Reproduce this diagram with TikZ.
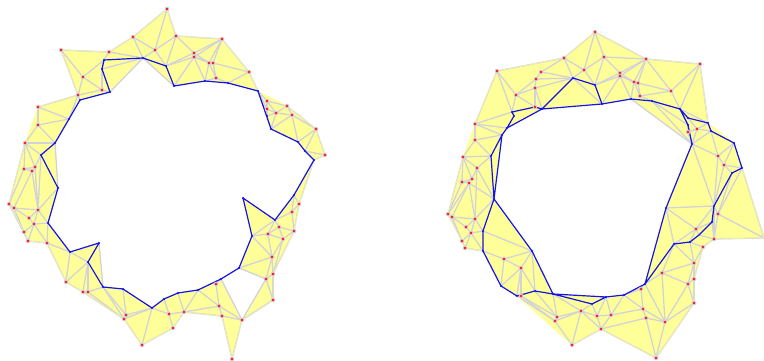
\documentclass[tikz,border=0pt]{standalone}
\definecolor{meshy}{HTML}{FFFF99}
\definecolor{meshe}{HTML}{D2D2D8}
\definecolor{pathb}{HTML}{1414E6}
\definecolor{dotr}{HTML}{FF1020}
\definecolor{halo}{HTML}{D8D0D0}
\tikzset{
  edgeline/.style={draw=meshe,line width=1.3pt},
  pathline/.style={draw=pathb,line width=1.2pt,line cap=round,line join=round},
  region/.style={fill=meshy,even odd rule},
  rim/.style={draw=meshy,line width=0.8pt,opacity=0.6},
}
\begin{document}
\begin{tikzpicture}[x=1pt,y=-1pt]
\useasboundingbox (0,0) rectangle (764,361);
% vertices: left ring
\foreach \n/\x/\y in {
a1/167/9,a2/133/37,a3/176/36,a4/155/50,a5/109/52,a6/61/50,a7/143/58,a8/104/60,a9/102/69,a10/83/77,
a11/166/66,a12/174/86,a13/78/95,a14/102/90,a15/110/92,a16/80/100,a17/38/107,a18/38/125,a19/69/119,
a20/25/143,a21/55/143,a22/41/155,a23/35/167,a24/24/169,a25/32/171,
b1/58/188,b2/9/204,b3/14/208,b4/38/210,b5/29/218,b6/34/224,b7/48/223,b8/24/232,b9/28/241,b10/47/243,
b11/70/252,b12/99/243,b13/88/262,b14/66/282,b15/83/292,b16/88/292,b17/103/287,b18/123/289,b19/126/315,
b20/124/319,b21/142/345,b22/152/308,b23/164/299,b24/169/314,
c1/178/293,c2/198/290,c3/173/328,c4/184/312,c5/216/284,c6/221/279,c7/239/268,c8/219/306,c9/222/316,
c10/242/320,c11/232/359,c12/273/300,c13/266/279,c14/273/274,c15/272/257,c16/252/236,c17/243/198,
c18/275/220,c19/268/234,c20/283/239,c21/279/227,c22/294/231,c23/292/212,c24/299/204,c25/294/195,
d2/222/39,d3/194/53,d4/194/57,d5/209/63,d6/213/63,d7/216/78,d8/249/72,d10/205/81,d11/228/83,d12/258/91,
d13/267/101,d14/267/109,d15/267/116,d16/287/106,d17/276/113,d18/292/115,d19/271/129,d20/298/142,
d21/316/129,d22/305/151,d23/325/155,d24/314/160}
  \coordinate (\n) at (\x,\y);
% vertices: right ring
\foreach \n/\x/\y in {
e1/595/32,e2/564/58,e3/604/57,e4/584/70,e5/541/72,e6/497/71,e7/536/79,e8/535/88,e9/573/78,e10/595/85,
e11/516/95,e12/602/104,e13/535/107,e14/542/109,e15/512/112,e16/514/116,e17/507/128,e18/475/124,
e19/475/140,e20/502/135,e21/491/156,e22/463/157,e23/477/168,e24/472/179,e25/462/182,e26/469/183,
f1/494/199,f2/448/214,f3/452/217,f4/475/219,f5/466/227,f6/471/233,f7/483/231,f8/462/241,f9/465/248,
f10/483/251,f11/504/259,f12/532/251,f13/521/268,f14/501/286,f15/517/296,f16/521/296,f17/535/291,
f18/553/294,f19/557/317,f20/555/321,f21/572/345,f22/581/311,f23/592/304,f24/597/316,f25/601/329,f26/606/297,
g2/624/295,g3/611/315,g5/641/289,g6/645/284,g7/643/309,g8/646/318,g9/665/322,g10/656/358,g11/694/303,
g12/688/284,g13/694/279,g14/662/273,g15/694/263,g16/674/244,g17/666/208,g18/690/242,g19/703/247,
g20/714/239,g21/696/229,g22/712/222,g23/718/214,g24/714/206,g25/699/235,g26/764/238,
h2/646/59,h3/700/64,h4/620/73,h5/620/76,h6/634/82,h7/638/83,h8/640/96,h9/671/91,h11/631/99,h12/652/101,
h13/680/109,h14/688/118,h15/708/123,h16/688/125,h17/688/132,h18/697/129,h19/711/131,h20/692/144,
h21/734/143,h22/718/156,h23/724/165,h24/742/168,h25/732/173}
  \coordinate (\n) at (\x,\y);
% yellow regions
\path[region]
  (a1)--(a3)--(d2)--(d8)--(d12)--(d16)--(d21)--(d23)--(d24)--(c24)--(c22)--(c14)--(c12)--(c10)--(c11)--(c9)--(c4)--(c3)--(b21)--(b20)--(b15)--(b14)--(b10)--(b9)--(b8)--(b2)--(a20)--(a17)--(a13)--(a6)--(a5)--(a2)--cycle
  (a7)--(a12)--(d10)--(d11)--(d12)--(d19)--(d20)--(d22)--(d24)--(c25)--(c18)--(c17)--(c16)--(c7)--(c6)--(c2)--(c1)--(b23)--(b22)--(b18)--(b17)--(b12)--(b11)--(b7)--(b1)--(a21)--(a19)--(a16)--(a15)--cycle
  (c6)--(c7)--(c13)--(c10)--cycle;
\path[region]
  (e1)--(h2)--(h3)--(h15)--(h21)--(h24)--(g26)--(g20)--(g19)--(g13)--(g11)--(g10)--(f25)--(f21)--(f15)--(f14)--(f10)--(f9)--(f2)--(e22)--(e18)--(e6)--(e2)--cycle
  (e14)--(e12)--(h11)--(h20)--(g17)--(g6)--(g2)--(f26)--(f18)--(f12)--(f1)--(e20)--(e17)--cycle;
% mesh edges, left ring
\foreach \p/\q in {
a6/a5,a6/a10,a6/a13,a10/a8,a10/a13,a10/a14,a5/a8,a5/a2,a5/a7,a8/a9,a9/a14,a9/a7,a15/a7,a2/a1,a2/a7,a2/a4,a1/a4,a1/a3,a4/a3,a4/a7,a4/a11,a3/a11,a7/a12,
a3/d3,a3/d2,a13/a14,a14/a15,a13/a16,a17/a13,a17/a19,a17/a18,a18/a19,a18/a20,a18/a21,a19/a13,a20/a21,a20/a22,a20/a23,a20/a24,a20/b2,a21/b1,a22/a23,a23/a24,a23/a25,a24/a25,
a24/b2,a25/b3,a25/b4,a23/b4,a22/b4,b1/b4,b4/b7,b4/b6,b4/b5,b4/b3,b3/b5,b3/b2,b2/b8,b3/b8,b5/b6,b6/b8,b8/b9,b6/b9,b6/b7,b9/b10,b6/b10,b7/b10,b10/b11,b10/b14,b11/b14,b11/b13,b12/b17,b13/b14,b13/b15,b13/b16,b14/b15,b15/b16,b16/b17,b16/b20,b15/b20,b17/b19,b17/b20,b18/b19,b19/b20,b19/b22,b20/b22,b20/b21,b21/b22,b21/c3,b22/b24,b23/b24,b24/c3,c3/c4,b24/c4,c1/c4,c2/c4,c2/c8,c4/c8,c4/c9,c5/c8,c5/c6,c6/c10,c8/c9,c8/c10,c9/c10,c9/c11,c10/c11,c10/c13,c10/c12,c12/c13,c7/c13,c7/c15,c13/c15,c13/c14,c14/c12,c14/c15,c15/c16,c15/c19,c15/c20,c14/c20,c16/c19,c16/c18,c18/c19,c18/c21,c18/c23,c19/c20,c19/c21,c20/c21,c21/c22,c20/c22,c22/c23,c23/c24,c22/c24,c23/c25,c24/c25,c24/d24,
d3/d2,d4/d2,d2/d5,d2/d6,d2/d8,d3/d4,d3/d5,d4/d5,d4/d6,d4/a11,d3/a11,d4/a12,d4/d10,d5/d10,d5/d6,d5/d7,d6/d7,d6/d8,d7/d10,d7/d11,d8/d11,d8/d12,d12/d13,d12/d14,d12/d15,d13/d16,d13/d14,d13/d17,d14/d17,d14/d15,d15/d17,d15/d19,d16/d17,d16/d18,d16/d21,d17/d18,d17/d19,d18/d19,d18/d20,d18/d21,d20/d21,d21/d22,d21/d23,d22/d23,d23/d24,
c22/c14,c12/c10,b9/b2}
  \draw[edgeline] (\p)--(\q);
% mesh edges, right ring
\foreach \p/\q in {
e6/e2,e6/e11,e6/e15,e6/e18,e2/e1,e2/e5,e2/e9,e2/e4,e1/e4,e1/e3,e1/h2,e4/e3,e4/e9,e4/e10,e3/e10,e3/h2,e3/h4,e5/e7,e5/e9,e7/e11,e7/e9,e7/e8,e8/e9,e8/e11,e8/e13,e8/e14,e11/e13,e11/e15,e9/e12,e15/e18,e18/e17,e18/e19,e18/e20,e19/e20,e19/e21,e19/e22,e22/e21,e22/e23,e22/e24,e22/e25,e22/f2,e21/e23,e23/f1,e26/f1,e23/f4,e24/e26,e25/e26,e24/e23,e25/e24,e25/f2,e26/f2,e26/f3,e26/f4,
f1/f4,f4/f7,f4/f6,f4/f5,f3/f4,f2/f3,f3/f5,f2/f8,f3/f8,f5/f6,f6/f8,f6/f9,f8/f9,f6/f10,f6/f7,f7/f12,f10/f11,f9/f10,f11/f12,f11/f13,f11/f14,f12/f13,f12/f17,f13/f14,f13/f15,f13/f16,f13/f17,f15/f16,f15/f20,f16/f20,f16/f19,f17/f19,f18/f19,f18/f22,f19/f20,f19/f22,f20/f22,f20/f21,f21/f22,f21/f25,f22/f23,f22/f24,f22/f25,f23/f24,f24/f25,f24/f26,f25/g3,g3/f24,g3/f26,g3/g2,g3/g7,f25/g8,g2/g7,g2/g5,g5/g6,g5/g7,g6/g9,g7/g8,g7/g9,g8/g9,g8/g10,f25/g10,g9/g10,g6/g14,g14/g9,g14/g12,g14/g15,g14/g16,g16/g17,g16/g15,g16/g21,g17/g21,g17/g24,g18/g15,g18/g19,g18/g21,g19/g15,g19/g20,g19/g13,g15/g12,g15/g13,g12/g13,g12/g11,g12/g9,g13/g11,g9/g11,g10/g11,g21/g22,g21/g24,g21/g25,g25/g20,g22/g20,g24/g20,g23/g24,g23/g20,g23/g26,g20/g26,h24/g26,
h20/g24,h22/g24,h23/g24,h25/g23,h24/g23,h23/h24,h23/h25,h23/h21,h22/h23,h22/h21,h22/h19,h22/h20,h20/h19,h18/h19,h18/h17,h18/h14,h18/h15,h18/h20,h17/h20,h16/h17,h2/h3,h2/h9,h2/h4,h2/h5,h2/h6,h2/h7,h3/h9,h3/h13,h3/h15,h9/h7,h9/h8,h9/h13,h4/h5,h4/h6,h5/e10,h5/h11,h5/h6,h5/h7,h4/e10,h6/h7,h6/h11,h6/h8,h7/h8,h8/h12,e12/h5,h11/h20,h12/h20,h12/h16,h13/h15,h13/h16}
  \draw[edgeline] (\p)--(\q);
% outer rim
\draw[rim] (a1)--(a3)--(d2)--(d8)--(d12)--(d16)--(d21)--(d23)--(d24)--(c24)--(c22)--(c14)--(c12)--(c10)--(c11)--(c9)--(c4)--(c3)--(b21)--(b20)--(b15)--(b14)--(b10)--(b9)--(b8)--(b2)--(a20)--(a17)--(a13)--(a6)--(a5)--(a2)--cycle;
\draw[rim] (e1)--(h2)--(h3)--(h15)--(h21)--(h24)--(g26)--(g20)--(g19)--(g13)--(g11)--(g10)--(f25)--(f21)--(f15)--(f14)--(f10)--(f9)--(f2)--(e22)--(e18)--(e6)--(e2)--cycle;
% blue paths
\draw[pathline] (a7)--(a8)--(a9)--(a15)--(a16)--(a19)--(a21)--(a22)--(b1)--(b7)--(b11)--(b12)--(b13)--(b17)--(b18)--(b22)--(b23)--(c1)--(c2)--(c6)--(c7)--(c16)--(c17)--(c18)--(c25)--(d24)--(d22)--(d20)--(d19)--(d12)--(d11)--(d10)--(a12)--(a11)--(a7);
\draw[pathline] (e14)--(e9)--(e10)--(e12)--(e14)--(e13)--(e15)--(e16)--(e17)--(e14);
\draw[pathline] (e17)--(e20)--(e21)--(f1)--(e20);
\draw[pathline] (f1)--(f7)--(f10)--(f14)--(f15)--(f17)--(f18)--(f12)--(f1);
\draw[pathline] (f18)--(f26)--(f23)--(f18);
\draw[pathline] (f26)--(g2)--(g6)--(g16)--(g18)--(g25)--(g22)--(g24)--(h25)--(h24)--(h21)--(h19)--(h15)--(h14)--(h13)--(h16)--(h20)--(g17)--(g6);
\draw[pathline] (e12)--(h11)--(h12)--(h13);
% vertex marks
\foreach \n in {a1,a2,a3,a4,a5,a6,a10,a13,a14,a17,a18,a20,a23,a24,a25,b2,b3,b4,b5,b6,b8,b9,b10,b14,b15,b16,b19,b20,b21,b24,c3,c4,c5,c8,c9,c10,c11,c12,c13,c14,c15,c19,c20,c21,c22,c23,c24,d2,d3,d4,d5,d6,d7,d8,d13,d14,d16,d17,d18,d21,d23,
e1,e2,e3,e4,e5,e6,e7,e8,e11,e13,e18,e19,e22,e23,e24,e25,e26,f2,f3,f4,f5,f6,f8,f9,f11,f13,f16,f19,f20,f21,f22,f24,f25,g3,g5,g7,g8,g9,g10,g11,g12,g13,g14,g15,g19,g20,g21,g23,h2,h3,h4,h5,h6,h7,h8,h9,h17,h18,h22,h23}
  {\fill[halo] (\n) circle (2.3pt); \fill[dotr] (\n) circle (1.4pt);}
\foreach \n in {a7,a8,a9,a11,a12,a15,a16,a19,a21,a22,b1,b7,b11,b12,b13,b17,b18,b22,b23,c1,c2,c6,c7,c16,c17,c18,c25,d10,d11,d12,d15,d19,d20,d22,d24,
e9,e10,e12,e14,e15,e16,e17,e20,e21,f1,f7,f10,f12,f14,f15,f17,f18,f23,f26,g2,g6,g16,g17,g18,g22,g24,h11,h12,h13,h14,h15,h16,h19,h20,h21,h24,h25}
  {\fill[pathb] (\n) circle (1.2pt);}
\end{tikzpicture}
\end{document}
